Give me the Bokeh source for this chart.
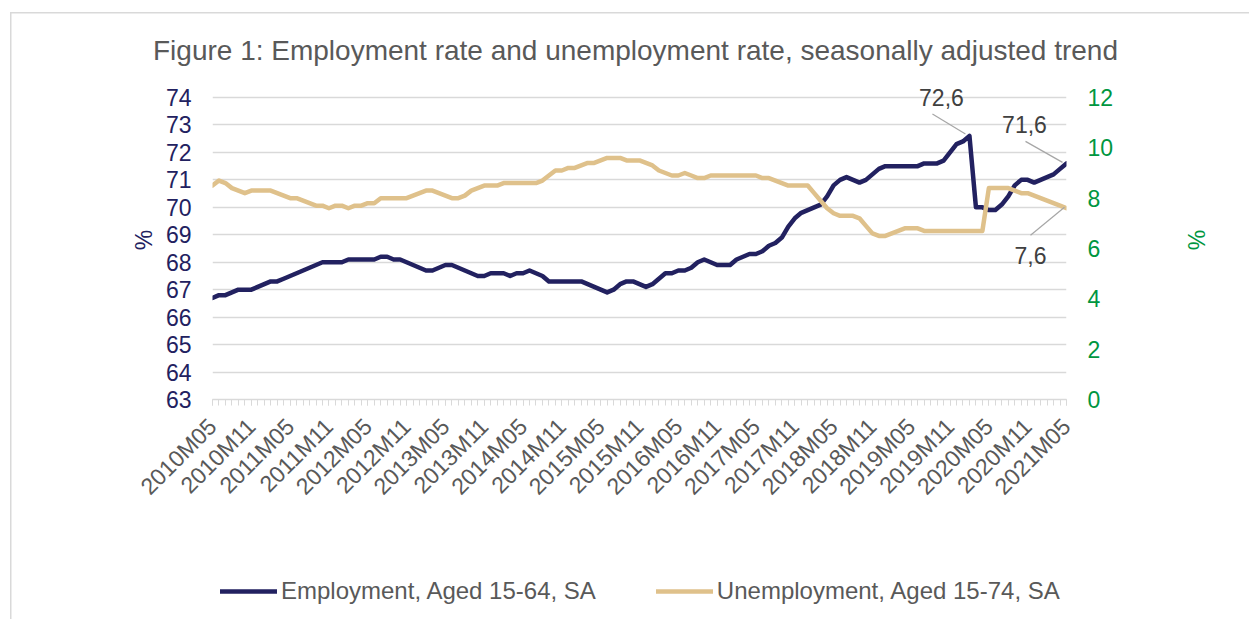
import math
from bokeh.plotting import figure
from bokeh.layouts import column
from bokeh.models import (Range1d, LinearAxis, FixedTicker, Legend, LegendItem, Label,
                          ColumnDataSource)
from bokeh.embed import file_html
from bokeh.resources import INLINE

# ---------------- data ----------------
tick_labels = ["2010M05", "2010M11", "2011M05", "2011M11", "2012M05", "2012M11",
               "2013M05", "2013M11", "2014M05", "2014M11", "2015M05", "2015M11",
               "2016M05", "2016M11", "2017M05", "2017M11", "2018M05", "2018M11",
               "2019M05", "2019M11", "2020M05", "2020M11", "2021M05"]

employment = [
    66.7, 66.8, 66.8, 66.9, 67.0, 67.0, 67.0, 67.1, 67.2, 67.3, 67.3, 67.4,
    67.5, 67.6, 67.7, 67.8, 67.9, 68.0, 68.0, 68.0, 68.0, 68.1, 68.1, 68.1,
    68.1, 68.1, 68.2, 68.2, 68.1, 68.1, 68.0, 67.9, 67.8, 67.7, 67.7, 67.8,
    67.9, 67.9, 67.8, 67.7, 67.6, 67.5, 67.5, 67.6, 67.6, 67.6, 67.5, 67.6,
    67.6, 67.7, 67.6, 67.5, 67.3, 67.3, 67.3, 67.3, 67.3, 67.3, 67.2, 67.1,
    67.0, 66.9, 67.0, 67.2, 67.3, 67.3, 67.2, 67.1, 67.2, 67.4, 67.6, 67.6,
    67.7, 67.7, 67.8, 68.0, 68.1, 68.0, 67.9, 67.9, 67.9, 68.1, 68.2, 68.3,
    68.3, 68.4, 68.6, 68.7, 68.9, 69.3, 69.6, 69.8, 69.9, 70.0, 70.1, 70.4,
    70.8, 71.0, 71.1, 71.0, 70.9, 71.0, 71.2, 71.4, 71.5, 71.5, 71.5, 71.5,
    71.5, 71.5, 71.6, 71.6, 71.6, 71.7, 72.0, 72.3, 72.4, 72.6, 70.0, 70.0,
    69.9, 69.9, 70.1, 70.4, 70.8, 71.0, 71.0, 70.9, 71.0, 71.1, 71.2, 71.4,
    71.6]

unemployment = [
    8.5, 8.7, 8.6, 8.4, 8.3, 8.2, 8.3, 8.3, 8.3, 8.3, 8.2, 8.1,
    8.0, 8.0, 7.9, 7.8, 7.7, 7.7, 7.6, 7.7, 7.7, 7.6, 7.7, 7.7,
    7.8, 7.8, 8.0, 8.0, 8.0, 8.0, 8.0, 8.1, 8.2, 8.3, 8.3, 8.2,
    8.1, 8.0, 8.0, 8.1, 8.3, 8.4, 8.5, 8.5, 8.5, 8.6, 8.6, 8.6,
    8.6, 8.6, 8.6, 8.7, 8.9, 9.1, 9.1, 9.2, 9.2, 9.3, 9.4, 9.4,
    9.5, 9.6, 9.6, 9.6, 9.5, 9.5, 9.5, 9.4, 9.3, 9.1, 9.0, 8.9,
    8.9, 9.0, 8.9, 8.8, 8.8, 8.9, 8.9, 8.9, 8.9, 8.9, 8.9, 8.9,
    8.9, 8.8, 8.8, 8.7, 8.6, 8.5, 8.5, 8.5, 8.5, 8.2, 7.9, 7.6,
    7.4, 7.3, 7.3, 7.3, 7.2, 6.9, 6.6, 6.5, 6.5, 6.6, 6.7, 6.8,
    6.8, 6.8, 6.7, 6.7, 6.7, 6.7, 6.7, 6.7, 6.7, 6.7, 6.7, 6.7,
    8.4, 8.4, 8.4, 8.4, 8.3, 8.2, 8.2, 8.1, 8.0, 7.9, 7.8, 7.7,
    7.6]

series_names = ["Employment, Aged 15-64, SA", "Unemployment, Aged 15-74, SA"]
left_ticks = list(range(63, 75))
right_ticks = list(range(0, 13, 2))
title_text = "Figure 1: Employment rate and unemployment rate, seasonally adjusted trend"

# ---------------- styling / layout ----------------
FONT = "Liberation Sans"
NAVY = "#222160"
TAN = "#dfc18b"
GREEN = "#00963f"
GREY_TXT = "#595959"
GRID = "#d9d9d9"

W, H = 1249, 619
TITLE_H, LEGEND_H = 80, 99           # heights of the title strip and legend strip
MAIN_H = H - TITLE_H - LEGEND_H
FRAME_L, FRAME_R, GRID_TOP, FRAME_B = 212, 1066, 97, 399   # page pixels of plot area

n = len(employment)
xs = list(range(n))
x0, x1 = 0, n - 1
yl0, yl1 = left_ticks[0], left_ticks[-1]
yr0, yr1 = right_ticks[0], right_ticks[-1]
PX_X = (FRAME_R - FRAME_L) / (x1 - x0)
PX_L = (FRAME_B - GRID_TOP) / (yl1 - yl0)
PX_R = (FRAME_B - GRID_TOP) / (yr1 - yr0)
pad_top = GRID_TOP - TITLE_H          # frame starts right under the title strip


def strip(height):
    f = figure(width=W, height=height, x_range=Range1d(0, W), y_range=Range1d(0, height),
               output_backend="svg", toolbar_location=None,
               x_axis_location=None, y_axis_location=None, min_border=0)
    f.frame_align = False
    f.grid.visible = False
    f.outline_line_color = None
    f.background_fill_color = None
    f.border_fill_color = None
    return f


# ---------- title strip ----------
pt = strip(TITLE_H)
pt.add_layout(Label(x=635, y=TITLE_H - 50, text=title_text, text_align="center",
                    text_baseline="middle", text_font=FONT, text_font_size="28px",
                    text_color=GREY_TXT))

# ---------- main chart ----------
p = figure(width=W, height=MAIN_H, x_range=Range1d(x0, x1),
           y_range=Range1d(yl0, yl1 + pad_top / PX_L),
           output_backend="svg", toolbar_location=None,
           min_border_left=FRAME_L, min_border_right=W - FRAME_R,
           min_border_top=0, min_border_bottom=TITLE_H + MAIN_H - FRAME_B)
p.frame_align = False
p.outline_line_color = None
p.background_fill_color = "white"
p.border_fill_color = None
p.extra_y_ranges = {"u": Range1d(yr0, yr1 + pad_top / PX_R)}

p.xgrid.visible = False
p.ygrid.grid_line_color = GRID
p.ygrid.grid_line_width = 1.5

xa = p.xaxis[0]
xa.ticker = FixedTicker(ticks=list(range(0, n, 6)), minor_ticks=xs)
xa.major_label_overrides = {i * 6: lab for i, lab in enumerate(tick_labels)}
xa.major_label_orientation = math.pi / 4
xa.axis_line_color = GRID
xa.axis_line_width = 1.5
xa.major_tick_line_color = GRID
xa.minor_tick_line_color = GRID
xa.major_tick_in = 0
xa.major_tick_out = 6
xa.minor_tick_in = 0
xa.minor_tick_out = 6
xa.major_label_standoff = 17
xa.major_label_text_font = FONT
xa.major_label_text_font_size = "23px"
xa.major_label_text_color = GREY_TXT

ya = p.yaxis[0]
ya.ticker = FixedTicker(ticks=left_ticks)
ya.axis_line_color = None
ya.major_tick_line_color = None
ya.minor_tick_line_color = None
ya.major_tick_out = 0
ya.major_label_standoff = 21
ya.major_label_text_font = FONT
ya.major_label_text_font_size = "23px"
ya.major_label_text_color = NAVY
ya.axis_label = "%"
ya.axis_label_text_font = FONT
ya.axis_label_text_font_style = "normal"
ya.axis_label_text_font_size = "23px"
ya.axis_label_text_color = NAVY
ya.axis_label_standoff = 6

ra = LinearAxis(y_range_name="u", ticker=FixedTicker(ticks=right_ticks))
ra.axis_line_color = None
ra.major_tick_line_color = None
ra.minor_tick_line_color = None
ra.major_tick_out = 0
ra.major_label_standoff = 21
ra.major_label_text_font = FONT
ra.major_label_text_font_size = "23px"
ra.major_label_text_color = GREEN
ra.axis_label = "%"
ra.axis_label_text_font = FONT
ra.axis_label_text_font_style = "normal"
ra.axis_label_text_font_size = "23px"
ra.axis_label_text_color = GREEN
ra.axis_label_standoff = 67
p.add_layout(ra, "right")

src = ColumnDataSource(dict(x=xs, emp=employment, unemp=unemployment))
line_kw = dict(line_width=4.5, line_join="round", line_cap="round")
p.line("x", "emp", source=src, line_color=NAVY, **line_kw)
p.line("x", "unemp", source=src, y_range_name="u", line_color=TAN, **line_kw)

# data labels with leader lines
i_peak = max(range(n), key=lambda i: employment[i])
i_last = n - 1
callouts = [
    # (x, y, range, label dx,dy px, leader start dx,dy, leader end dx,dy)
    (i_peak, employment[i_peak], "default", (-28, 38), (-4, 2), (-37, 22)),
    (i_last, employment[i_last], "default", (-42, 39), (-4, 1), (-41, 22)),
    (i_last, unemployment[i_last], "u", (-36, -47), (-2, 1), (-36, -27)),
]
for xi, yv, rng, (lx, ly), (sx, sy), (ex, ey) in callouts:
    pxy = PX_L if rng == "default" else PX_R
    txt = f"{yv:.1f}".replace(".", ",")
    p.add_layout(Label(x=xi + lx / PX_X, y=yv + ly / pxy, y_range_name=rng, text=txt,
                       text_align="center", text_baseline="middle",
                       text_font=FONT, text_font_size="23px", text_color="#404040"))
    p.segment(x0=[xi + sx / PX_X], y0=[yv + sy / pxy], x1=[xi + ex / PX_X], y1=[yv + ey / pxy],
              y_range_name=rng, line_color="#a6a6a6", line_width=1.2)

# ---------- legend strip ----------
pl = strip(LEGEND_H)
pl.extra_y_ranges = {"off": Range1d(-1000, -999)}   # keeps the legend's series out of view
l1 = pl.line(xs, employment, y_range_name="off", line_color=NAVY, **line_kw)
l2 = pl.line(xs, unemployment, y_range_name="off", line_color=TAN, **line_kw)
legend = Legend(items=[LegendItem(label=series_names[0], renderers=[l1]),
                       LegendItem(label=series_names[1], renderers=[l2])],
                orientation="horizontal", location=(220, 14),
                glyph_width=57, glyph_height=24, label_standoff=4, spacing=60,
                padding=0, margin=0, border_line_color=None, background_fill_alpha=0,
                label_text_font=FONT, label_text_font_size="24px", label_text_color=GREY_TXT)
pl.add_layout(legend)

layout = column(pt, p, pl, spacing=0)
layout.styles = {
    "background-color": "white",
    "background-image": f"linear-gradient({GRID},{GRID}), linear-gradient({GRID},{GRID})",
    "background-size": "1.5px 100%, 100% 1.5px",
    "background-position": "10px 12px, 10px 12px",
    "background-repeat": "no-repeat",
}

open("out.html", "w").write(file_html(layout, INLINE))
